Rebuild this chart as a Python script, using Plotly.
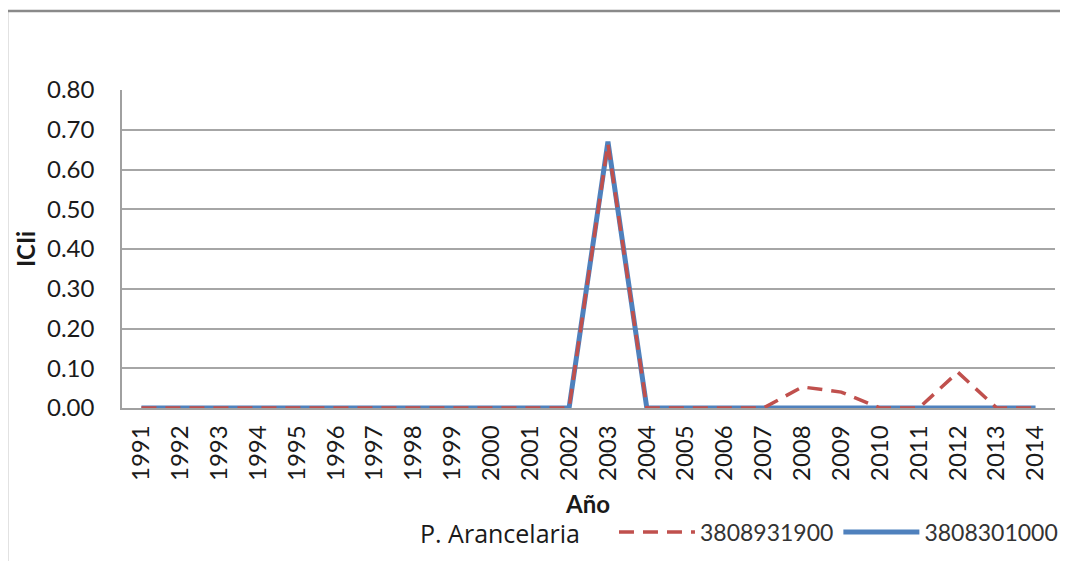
import plotly.graph_objects as go

years = [str(y) for y in range(1991, 2015)]
s_3808931900 = [0, 0, 0, 0, 0, 0, 0, 0, 0, 0, 0, 0, 0.665, 0, 0, 0, 0, 0.053, 0.040, 0, 0, 0.090, 0, 0]
s_3808301000 = [0, 0, 0, 0, 0, 0, 0, 0, 0, 0, 0, 0, 0.670, 0, 0, 0, 0, 0, 0, 0, 0, 0, 0, 0]
y_ticks = [0, 0.1, 0.2, 0.3, 0.4, 0.5, 0.6, 0.7, 0.8]

FONT = "Lato"
OFF = 8  # page body margin
W, H = 1068 - OFF, 561 - OFF
# plot area in page px: x 122..1055, y 90..408
L, T = 122 - OFF, 90 - OFF
R = W - (1055 - OFF)
B = H - (408 - OFF)

fig = go.Figure()
fig.add_trace(go.Scatter(x=years, y=s_3808301000, mode="lines", name="3808301000",
                         line=dict(color="#4F81BD", width=5), legendrank=2))
fig.add_trace(go.Scatter(x=years, y=s_3808931900, mode="lines", name="3808931900",
                         line=dict(color="#C0504D", width=3.5, dash="15px,9px"), legendrank=1))

pw, ph = W - L - R, H - T - B
def px_x(p): return (p - OFF - L) / pw
def px_y(p): return (H - B - (p - OFF)) / ph

fig.update_layout(
    width=W, height=H,
    margin=dict(l=L, r=R, t=T, b=B, autoexpand=False),
    paper_bgcolor="white", plot_bgcolor="white",
    font=dict(family=FONT, size=24, color="#1a1a1a"),
    xaxis=dict(type="category", range=[-0.5, 23.5], tickangle=-90, showgrid=False,
               showline=True, linecolor="#a0a0a0", linewidth=1.5, ticks="",
               tickfont=dict(size=24), ticklabelstandoff=6, fixedrange=True),
    yaxis=dict(range=[0, 0.8], tickvals=y_ticks, tickformat=".2f", showgrid=True,
               gridcolor="#a6a6a6", gridwidth=1.5, showline=True, linecolor="#a0a0a0",
               linewidth=1.5, ticks="", zeroline=False, tickfont=dict(size=24),
               ticklabelstandoff=21, fixedrange=True),
    showlegend=True,
    legend=dict(orientation="h", x=px_x(418), y=px_y(532), xanchor="left", yanchor="middle",
                title=dict(text="P. Arancelaria\u00a0\u00a0\u00a0\u00a0", side="left",
                           font=dict(family="Open Sans", size=25, color="#1a1a1a")),
                font=dict(size=23, color="#333333"), itemwidth=76, bgcolor="rgba(0,0,0,0)",
                tracegroupgap=0),
    annotations=[
        dict(text="<b>Año</b>", xref="paper", yref="paper", x=px_x(587), y=px_y(503),
             showarrow=False, font=dict(size=24, color="#1a1a1a"), xanchor="center", yanchor="middle"),
        dict(text="<b>ICIi</b>", xref="paper", yref="paper", x=px_x(25), y=px_y(249),
             showarrow=False, textangle=-90, font=dict(size=24, color="#1a1a1a"),
             xanchor="center", yanchor="middle"),
    ],
    shapes=[dict(type="rect", xref="paper", yref="paper", x0=px_x(7), y0=px_y(620),
                 x1=px_x(1120), y1=px_y(11), line=dict(color="#8a8a8a", width=2.5), layer="below")],
)

fig.write_html("out.html")
